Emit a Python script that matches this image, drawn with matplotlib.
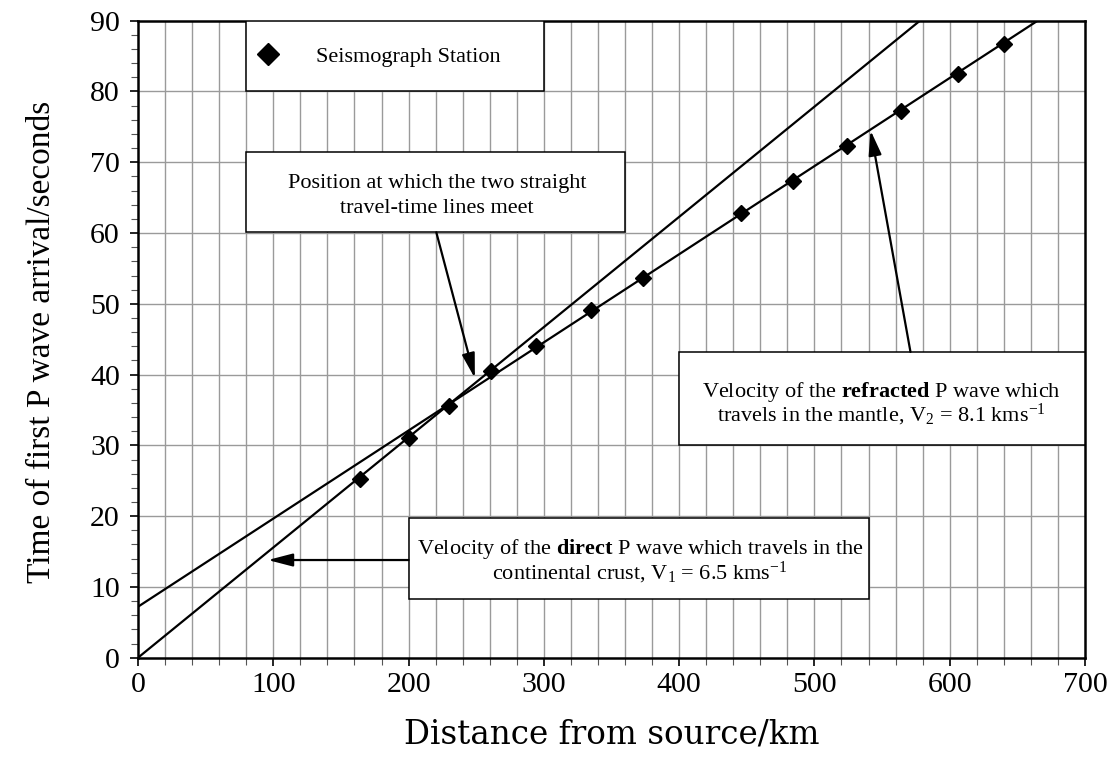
import matplotlib
matplotlib.use('Agg')
import matplotlib.pyplot as plt
import matplotlib.ticker as ticker
from matplotlib.patches import Rectangle

# Seismograph stations: distance from source (km) and first P arrival time (s)
station_km = [164, 200, 230, 261, 294, 335, 373, 446, 484, 524, 564, 606, 640]
arrival_s = [25.3, 31.0, 35.6, 40.5, 44.0, 49.1, 53.7, 62.8, 67.4, 72.3, 77.3, 82.4, 86.7]

# The two straight travel-time lines (end points)
direct_km = [0, 578]
direct_s = [0, 90]
refracted_km = [0, 665]
refracted_s = [7.2, 90]

x_ticks = [0, 100, 200, 300, 400, 500, 600, 700]
y_ticks = [0, 10, 20, 30, 40, 50, 60, 70, 80, 90]

plt.rcParams['font.family'] = ['Liberation Serif', 'DejaVu Serif']
plt.rcParams['mathtext.fontset'] = 'custom'
plt.rcParams['mathtext.rm'] = 'Liberation Serif'
plt.rcParams['mathtext.it'] = 'Liberation Serif:italic'
plt.rcParams['mathtext.bf'] = 'Liberation Serif:bold'

fig = plt.figure(figsize=(11.19, 7.76), dpi=100)
ax = fig.add_axes([138 / 1119, 1 - 657.7 / 776, (1085 - 138) / 1119, (657.7 - 20.7) / 776])

ax.set_xlim(0, 700)
ax.set_ylim(0, 90)
ax.set_xticks(x_ticks)
ax.set_yticks(y_ticks)
ax.xaxis.set_minor_locator(ticker.MultipleLocator(20))
ax.yaxis.set_minor_locator(ticker.MultipleLocator(2))
ax.tick_params(which='both', direction='out', labelsize=21.5, width=1.2, color='black')
ax.tick_params(which='major', length=6)
ax.tick_params(which='minor', length=5, width=0.8, color='#555555')
ax.tick_params(axis='x', pad=4)
ax.tick_params(axis='y', pad=7)
ax.tick_params(top=False, right=False)

for s in ax.spines.values():
    s.set_linewidth(1.8)

# grid: every 20 km and every 10 s
for gx in range(20, 700, 20):
    ax.axvline(gx, color='#9a9a9a', lw=1.0, zorder=0)
for gy in range(10, 90, 10):
    ax.axhline(gy, color='#9a9a9a', lw=1.0, zorder=0)

ax.plot(direct_km, direct_s, color='black', lw=1.6, zorder=2)
ax.plot(refracted_km, refracted_s, color='black', lw=1.6, zorder=2)
ax.plot(station_km, arrival_s, ls='none', marker='D', ms=8.5, color='black', zorder=3)

box_style = dict(facecolor='white', edgecolor='black', lw=1.1, zorder=4)
txt_style = dict(fontsize=16, ha='center', va='baseline', zorder=5)
arrow = dict(arrowstyle='-|>,head_length=0.5,head_width=0.13', color='black',
             lw=1.6, shrinkA=0, shrinkB=0, mutation_scale=30)

# legend box
ax.add_patch(Rectangle((80, 80), 220, 10, **box_style))
ax.plot([96], [85.3], ls='none', marker='D', ms=11, color='black', zorder=5)
ax.text(199.5, 84.2, 'Seismograph Station', **txt_style)

# crossover annotation
ax.add_patch(Rectangle((80, 60.1), 280, 11.4, **box_style))
ax.text(221, 66.3, 'Position at which the two straight', **txt_style)
ax.text(221, 62.9, 'travel-time lines meet', **txt_style)
ax.annotate('', xy=(249, 39.5), xytext=(220.5, 60.1), arrowprops=arrow, zorder=5)

# refracted wave annotation
ax.add_patch(Rectangle((400, 30), 300, 13.2, **box_style))
ax.text(549.7, 36.9, 'Velocity of the $\\mathbf{refracted}$ P wave which', **txt_style)
ax.text(549.7, 33.35, 'travels in the mantle, V$_2$ = 8.1 kms$^{-1}$', **txt_style)
ax.annotate('', xy=(541.5, 74.5), xytext=(571, 43.2), arrowprops=arrow, zorder=5)

# direct wave annotation
ax.add_patch(Rectangle((200, 8.25), 340, 11.55, **box_style))
ax.text(371, 14.65, 'Velocity of the $\\mathbf{direct}$ P wave which travels in the', **txt_style)
ax.text(371, 11.07, 'continental crust, V$_1$ = 6.5 kms$^{-1}$', **txt_style)
ax.annotate('', xy=(96, 13.8), xytext=(200, 13.8), arrowprops=arrow, zorder=5)

fig.text(611.5 / 1119, 1 - 735 / 776, 'Distance from source/km', fontsize=23.5,
         family='DejaVu Serif', ha='center', va='center')
fig.text(42 / 1119, 1 - 342 / 776, 'Time of first P wave arrival/seconds', fontsize=24,
         ha='center', va='center', rotation=90)

fig.savefig('out.png', dpi=100)
